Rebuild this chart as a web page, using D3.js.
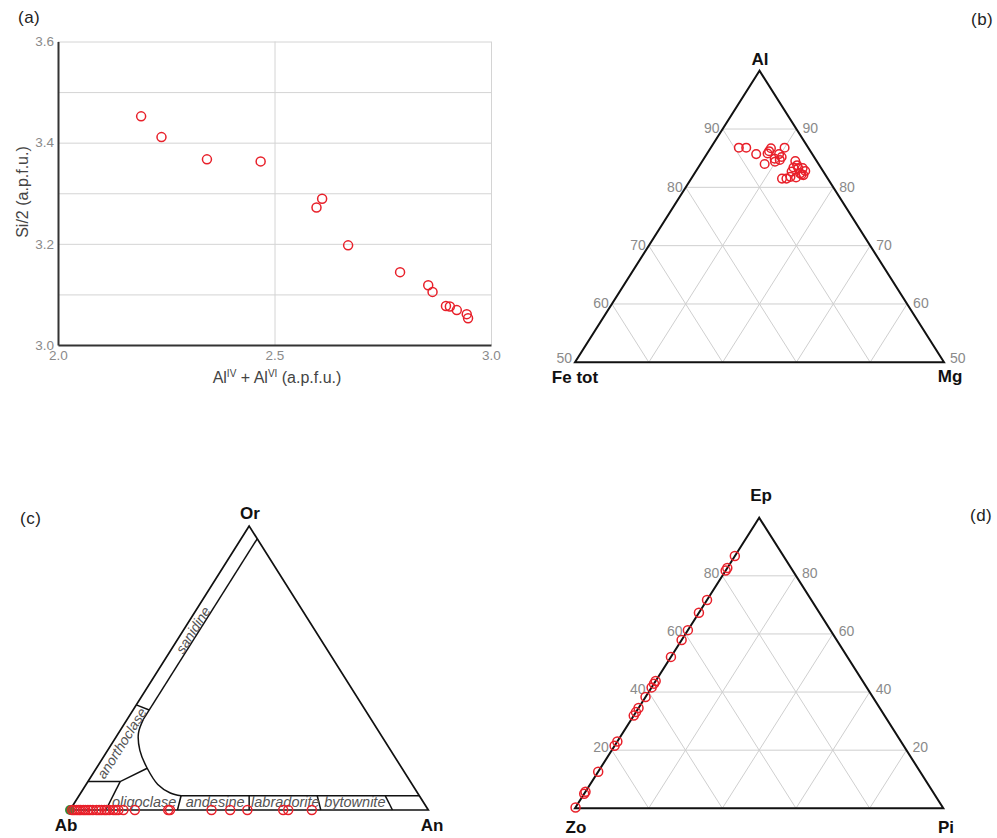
<!DOCTYPE html>
<html>
<head>
<meta charset="utf-8">
<script src="https://d3js.org/d3.v7.min.js"></script>
<style>
  body { margin: 0; background: #fff; }
  svg { display: block; font-family: "Liberation Sans", Arial, sans-serif; }
  .grid { stroke: #cfcfcf; stroke-width: 1; fill: none; }
  .tlbl { fill: #8a8a8a; font-size: 14px; }
  .corner { font-weight: bold; font-size: 17px; fill: #111; }
  .panel { font-size: 17px; fill: #222; letter-spacing: 0.5px; }
  .field { font-style: italic; font-size: 14.5px; fill: #555; }
  .pt { fill: none; stroke: #e8202a; stroke-width: 1.5; }
</style>
</head>
<body>
<script>
// (a) Si/2 vs Al(IV)+Al(VI), a.p.f.u.
var aAl = [2.192, 2.239, 2.344, 2.468, 2.610, 2.597, 2.670, 2.790, 2.855, 2.865, 2.896, 2.905, 2.921, 2.944, 2.947];
var aSi = [3.452, 3.411, 3.367, 3.363, 3.289, 3.272, 3.197, 3.144, 3.118, 3.105, 3.077, 3.076, 3.069, 3.061, 3.053];
var aXTicks = [2.0, 2.5, 3.0];
var aYTicks = [3.1, 3.2, 3.3, 3.4, 3.5, 3.6];
var aYLabelled = [3.0, 3.2, 3.4, 3.6];

// (b) Al - Fe tot - Mg
var bAl = [86.8, 86.8, 85.7, 84.0, 86.2, 86.7, 85.8, 84.9, 85.7, 85.2, 86.8, 84.7, 84.4, 84.5, 83.8, 83.4, 83.3, 82.8, 82.4, 82.1, 81.5, 81.5, 81.8, 81.7, 82.2, 83.3, 82.7];
var bFe = [9.4, 8.4, 7.6, 7.3, 5.6, 5.1, 6.0, 5.5, 4.5, 4.4, 3.2, 4.9, 5.7, 2.9, 3.0, 3.7, 2.5, 2.4, 3.3, 3.0, 6.2, 5.6, 4.9, 4.2, 3.2, 3.1, 4.3];
var bMg = [3.8, 4.8, 6.7, 8.7, 8.2, 8.2, 8.2, 9.6, 9.8, 10.4, 10.0, 10.4, 9.9, 12.6, 13.2, 12.9, 14.2, 14.8, 14.3, 14.9, 12.3, 12.9, 13.3, 14.1, 14.6, 13.6, 13.0];
var bTopLevels = [60, 70, 80, 90];
var bSideLevels = [10, 20, 30, 40];
var bLabels = [50, 60, 70, 80, 90];

// (c) Or - Ab - An feldspar
var cOr = [0, 0, 0, 0, 0, 0, 0, 0, 0, 0, 0, 0, 0, 0, 0, 0, 0, 0, 0, 0, 0, 0, 0, 0, 0, 0, 0, 0, 0];
var cAn = [0.6, 1.2, 1.9, 2.5, 3.0, 3.7, 4.3, 5.0, 5.6, 6.4, 7.4, 8.1, 8.8, 9.6, 10.2, 11.0, 12.1, 12.8, 13.5, 14.9, 18.1, 27.4, 27.9, 39.5, 44.7, 49.5, 59.5, 60.9, 67.5];
var cAb = [99.4, 98.8, 98.1, 97.5, 97.0, 96.3, 95.7, 95.0, 94.4, 93.6, 92.6, 91.9, 91.2, 90.4, 89.8, 89.0, 87.9, 87.2, 86.5, 85.1, 81.9, 72.6, 72.1, 60.5, 55.3, 50.5, 40.5, 39.1, 32.5];
var cGreenOr = [0], cGreenAb = [100], cGreenAn = [0];
var plagNames = ["oligoclase", "andesine", "labradorite", "bytownite"];
var plagNameAn = [20, 39.8, 59.4, 78.8];
var plagRatios = [0.3, 0.5, 0.7, 0.9];
// field boundaries as [Or, Ab, An]
var fieldLines = [
  [[95.5, 0, 4.5], [32, 63.5, 4.5]],
  [[37, 63, 0], [35.2, 60.3, 4.5]],
  [[10, 90, 0], [10, 81, 9], [14.7, 71.1, 14.2]],
  [[10, 81, 9], [0, 90, 10]],
  [[5, 66.5, 28.5], [5, 0, 95]]
];
var solvus = [[32, 63.5, 4.5], [27, 67.4, 5.6], [21, 70, 9.0], [14.7, 71.1, 14.2], [9, 71, 20], [6, 69, 25], [5, 66.5, 28.5]];

// (d) Ep - Zo - Pi
var dEp = [0.3, 5.0, 5.7, 12.6, 21.5, 23.0, 31.9, 33.1, 34.5, 38.3, 41.6, 42.9, 43.8, 52.1, 57.9, 61.3, 67.3, 71.7, 81.8, 82.7, 86.8];
var dZo = [99.7, 95.0, 94.3, 87.4, 78.5, 77.0, 68.1, 66.9, 65.5, 61.7, 58.4, 57.1, 56.2, 47.9, 42.1, 38.7, 32.7, 28.3, 18.2, 17.3, 13.2];
var dPi = [0, 0, 0, 0, 0, 0, 0, 0, 0, 0, 0, 0, 0, 0, 0, 0, 0, 0, 0, 0, 0];
var dTopLevels = [20, 40, 60, 80];
var dSideLevels = [20, 40, 60, 80];
var dLabels = [20, 40, 60, 80];

var svg = d3.select("body").append("svg")
  .attr("width", 997)
  .attr("height", 838);

// ---------- panel (a)
var xA = d3.scaleLinear().domain([2, 3]).range([58, 491]);
var yA = d3.scaleLinear().domain([3, 3.6]).range([345, 41.5]);

var xAxis = svg.append("g")
  .attr("transform", "translate(0,345)")
  .call(d3.axisBottom(xA).tickValues(aXTicks).tickSize(-(345 - 41.5)).tickSizeOuter(0).tickPadding(5).tickFormat(d3.format(".1f")));
var yAxis = svg.append("g")
  .attr("transform", "translate(58,0)")
  .call(d3.axisLeft(yA).tickValues([3.0].concat(aYTicks)).tickSize(-(491 - 58)).tickSizeOuter(0).tickPadding(4)
    .tickFormat(function (d) { return aYLabelled.indexOf(Math.round(d * 10) / 10) >= 0 ? d3.format(".1f")(d) : ""; }));

[xAxis, yAxis].forEach(function (ax) {
  ax.selectAll(".tick line").attr("stroke", "#d4d4d4");
  ax.selectAll(".tick text").attr("fill", "#8a8a8a").style("font-size", "13.5px").style("font-family", "Liberation Sans, Arial");
  ax.select(".domain").attr("stroke", "#333").attr("stroke-width", 2).raise();
});
yAxis.selectAll(".tick").filter(function (d) { return d === 3.0; }).select("line").remove();

svg.append("g").selectAll("circle")
  .data(aAl)
  .enter().append("circle")
  .attr("class", "pt")
  .attr("stroke", "#d9303a")
  .attr("cx", function (d) { return xA(d); })
  .attr("cy", function (d, i) { return yA(aSi[i]); })
  .attr("r", 4.5);

// axis titles
var xt = svg.append("text")
  .attr("x", 277).attr("y", 383)
  .attr("text-anchor", "middle")
  .style("font-size", "16px").style("fill", "#444");
xt.append("tspan").text("Al");
xt.append("tspan").attr("dy", -6).style("font-size", "10px").text("IV");
xt.append("tspan").attr("dy", 6).text(" + Al");
xt.append("tspan").attr("dy", -6).style("font-size", "10px").text("VI");
xt.append("tspan").attr("dy", 6).text(" (a.p.f.u.)");

svg.append("text")
  .attr("transform", "translate(28,192) rotate(-90)")
  .attr("text-anchor", "middle")
  .style("font-size", "16px").style("fill", "#444")
  .text("Si/2 (a.p.f.u.)");

// ---------- ternary helper: returns (top, left, right) -> [x, y]
function ternary(apex, bl, br, minTop, span) {
  var sx = d3.scaleLinear().domain([0, 1]).range([bl[0], br[0]]);
  var sy = d3.scaleLinear().domain([0, 1]).range([bl[1], apex[1]]);
  return function (top, left, right) {
    var t = (top - minTop) / span, r = right / span;
    return [sx(r + t / 2), sy(t)];
  };
}

function drawTernaryGrid(g, tern, minTop, topLevels, sideLevels) {
  var segs = [];
  topLevels.forEach(function (v) { segs.push([tern(v, 100 - v, 0), tern(v, 0, 100 - v)]); });
  sideLevels.forEach(function (v) {
    segs.push([tern(minTop, v, 100 - minTop - v), tern(100 - v, v, 0)]);
    segs.push([tern(minTop, 100 - minTop - v, v), tern(100 - v, 0, v)]);
  });
  g.append("g").selectAll("path")
    .data(segs)
    .enter().append("path")
    .attr("class", "grid")
    .attr("d", d3.line());
}

function drawFrame(g, tern, minTop, width) {
  var pts = [tern(100, 0, 0), tern(minTop, 100 - minTop, 0), tern(minTop, 0, 100 - minTop)];
  g.append("path")
    .attr("d", d3.line()(pts) + "Z")
    .attr("fill", "none")
    .attr("stroke", "#111")
    .attr("stroke-width", width)
    .attr("stroke-linejoin", "miter");
}

// labels on both sides; the lowest one sits a little higher, as in the original
function drawSideLabels(g, tern, values, dy, lowShift) {
  function yOf(v, p) { return p[1] + (v === values[0] ? lowShift : 0); }
  g.append("g").selectAll("text")
    .data(values)
    .enter().append("text")
    .attr("class", "tlbl")
    .attr("text-anchor", "end")
    .attr("x", function (v) { return tern(v, 100 - v, 0)[0] - 3; })
    .attr("y", function (v) { return yOf(v, tern(v, 100 - v, 0)); })
    .attr("dy", dy)
    .text(function (v) { return v; });
  g.append("g").selectAll("text")
    .data(values)
    .enter().append("text")
    .attr("class", "tlbl")
    .attr("text-anchor", "start")
    .attr("x", function (v) { return tern(v, 0, 100 - v)[0] + 6; })
    .attr("y", function (v) { return yOf(v, tern(v, 0, 100 - v)); })
    .attr("dy", dy)
    .text(function (v) { return v; });
}

// ---------- panel (b)
var tB = ternary([759.5, 70.7], [575, 362.3], [944, 362.3], 50, 50);
var gB = svg.append("g");
drawTernaryGrid(gB, tB, 50, bTopLevels, bSideLevels);
drawFrame(gB, tB, 50, 2);
drawSideLabels(gB, tB, bLabels, "0.3em", -4);

gB.append("g").selectAll("circle")
  .data(bAl)
  .enter().append("circle")
  .attr("class", "pt")
  .attr("cx", function (d, i) { return tB(d, bFe[i], bMg[i])[0]; })
  .attr("cy", function (d, i) { return tB(d, bFe[i], bMg[i])[1]; })
  .attr("r", 4.3);

gB.append("text").attr("class", "corner").attr("text-anchor", "middle").attr("x", 760).attr("y", 65).text("Al");
gB.append("text").attr("class", "corner").attr("text-anchor", "middle").attr("x", 575).attr("y", 383).text("Fe tot");
gB.append("text").attr("class", "corner").attr("text-anchor", "middle").attr("x", 950).attr("y", 382).text("Mg");

// ---------- panel (c)
var tC = ternary([249.2, 526], [70, 810], [428.3, 810], 0, 100);
var gC = svg.append("g");
function toC(p) { return tC(p[0], p[1], p[2]); }

gC.append("g").selectAll("path")
  .data(fieldLines)
  .enter().append("path")
  .attr("d", function (d) { return d3.line()(d.map(toC)); })
  .attr("fill", "none").attr("stroke", "#111").attr("stroke-width", 1.5);

gC.append("path")
  .attr("d", d3.line().curve(d3.curveCatmullRom)(solvus.map(toC)))
  .attr("fill", "none").attr("stroke", "#111").attr("stroke-width", 1.5);

gC.append("g").selectAll("path")
  .data(plagRatios)
  .enter().append("path")
  .attr("d", function (r) { return d3.line()([tC(5, 95 * (1 - r), 95 * r), tC(0, 100 * (1 - r), 100 * r)]); })
  .attr("fill", "none").attr("stroke", "#111").attr("stroke-width", 1.5);

drawFrame(gC, tC, 0, 1.7);

var edgeAngle = Math.atan2(526 - 810, 249.2 - 70) * 180 / Math.PI;
[["sanidine", 63.4, 2.6], ["anorthoclase", 23.5, 2.7]].forEach(function (f) {
  var p = tC(f[1], 100 - f[1] - f[2], f[2]);
  gC.append("text").attr("class", "field")
    .attr("text-anchor", "middle")
    .attr("dominant-baseline", "central")
    .style("font-size", "14px")
    .attr("transform", "translate(" + p[0] + "," + p[1] + ") rotate(" + edgeAngle + ")")
    .text(f[0]);
});

gC.append("g").selectAll("text")
  .data(plagNames)
  .enter().append("text")
  .attr("class", "field")
  .attr("text-anchor", "middle")
  .attr("x", function (d, i) { return tC(1.4, 98.6 - plagNameAn[i], plagNameAn[i])[0]; })
  .attr("y", function (d, i) { return tC(1.4, 98.6 - plagNameAn[i], plagNameAn[i])[1] + 1; })
  .text(function (d) { return d; });

gC.append("g").selectAll("circle")
  .data(cGreenOr)
  .enter().append("circle")
  .attr("cx", function (d, i) { return tC(d, cGreenAb[i], cGreenAn[i])[0]; })
  .attr("cy", function (d, i) { return tC(d, cGreenAb[i], cGreenAn[i])[1]; })
  .attr("r", 5)
  .attr("fill", "#3a8a3a");

gC.append("g").selectAll("circle")
  .data(cOr)
  .enter().append("circle")
  .attr("class", "pt")
  .attr("cx", function (d, i) { return tC(d, cAb[i], cAn[i])[0]; })
  .attr("cy", function (d, i) { return tC(d, cAb[i], cAn[i])[1]; })
  .attr("r", 4.5);

gC.append("text").attr("class", "corner").attr("text-anchor", "middle").attr("x", 250).attr("y", 519).text("Or");
gC.append("text").attr("class", "corner").attr("text-anchor", "middle").attr("x", 66).attr("y", 831).text("Ab");
gC.append("text").attr("class", "corner").attr("text-anchor", "middle").attr("x", 432).attr("y", 831).text("An");

// ---------- panel (d)
var tD = ternary([759.2, 517.7], [575, 808.3], [943.3, 808.3], 0, 100);
var gD = svg.append("g");
drawTernaryGrid(gD, tD, 0, dTopLevels, dSideLevels);
drawFrame(gD, tD, 0, 2);
drawSideLabels(gD, tD, dLabels, "0.15em", 0);

gD.append("g").selectAll("circle")
  .data(dEp)
  .enter().append("circle")
  .attr("class", "pt")
  .attr("cx", function (d, i) { return tD(d, dZo[i], dPi[i])[0]; })
  .attr("cy", function (d, i) { return tD(d, dZo[i], dPi[i])[1]; })
  .attr("r", 4.5);

gD.append("text").attr("class", "corner").attr("text-anchor", "middle").attr("x", 761).attr("y", 501).text("Ep");
gD.append("text").attr("class", "corner").attr("text-anchor", "middle").attr("x", 576).attr("y", 833).text("Zo");
gD.append("text").attr("class", "corner").attr("text-anchor", "middle").attr("x", 946).attr("y", 833).text("Pi");

// ---------- panel letters
svg.append("text").attr("class", "panel").attr("x", 18).attr("y", 23).text("(a)");
svg.append("text").attr("class", "panel").attr("x", 971).attr("y", 25).text("(b)");
svg.append("text").attr("class", "panel").attr("x", 20).attr("y", 524).text("(c)");
svg.append("text").attr("class", "panel").attr("x", 970).attr("y", 521).text("(d)");
</script>
</body>
</html>
